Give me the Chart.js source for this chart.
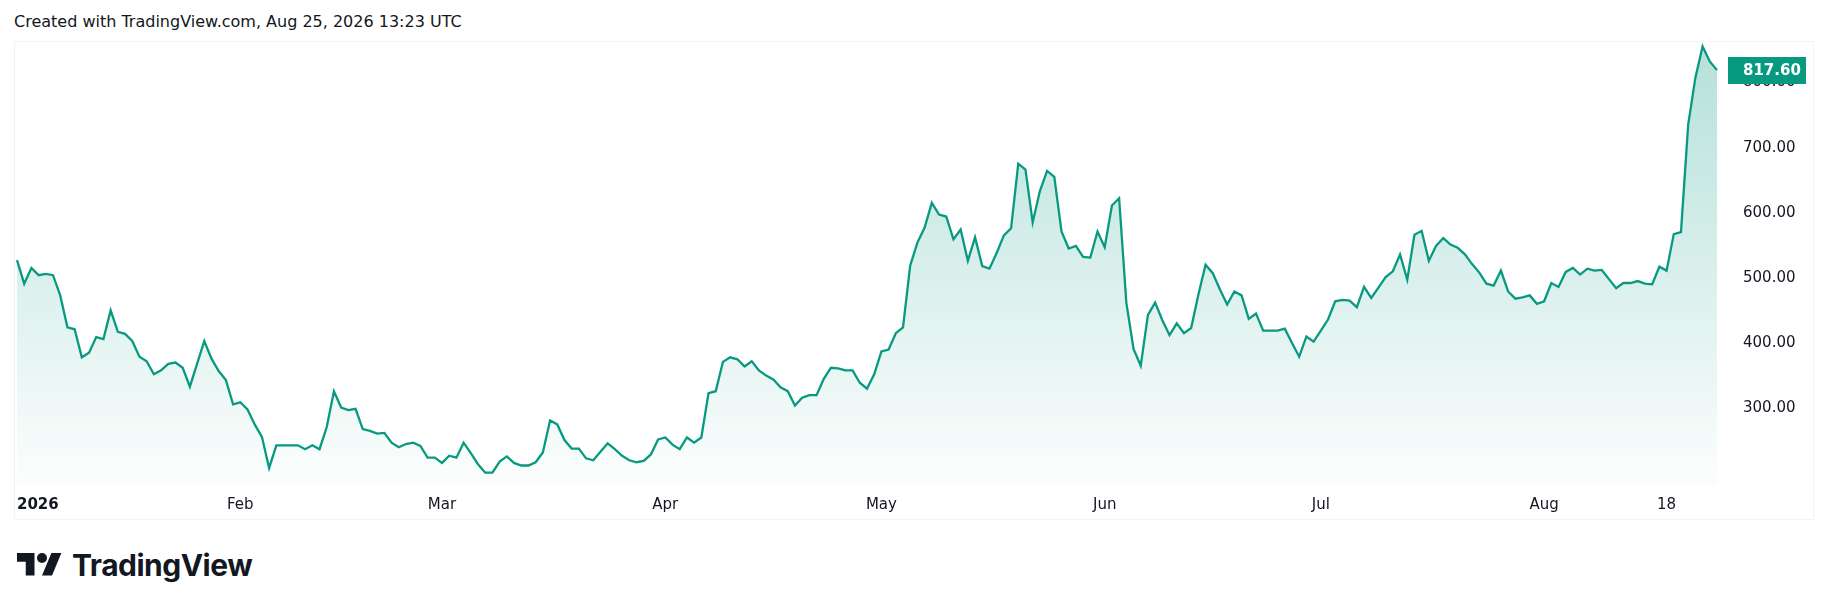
<!DOCTYPE html>
<html>
<head>
<meta charset="utf-8">
<script src="https://cdn.jsdelivr.net/npm/chart.js@4.4.1/dist/chart.umd.min.js"></script>
<style>
  html, body { margin: 0; padding: 0; background: #ffffff; }
  body { width: 1830px; height: 611px; position: relative; overflow: hidden; font-family: "DejaVu Sans", sans-serif; color: #131722; }
  #title { position: absolute; left: 14px; top: 11px; font-size: 16px; line-height: 22px; white-space: nowrap; }
  #frame { position: absolute; left: 14px; top: 41px; width: 1800px; height: 479px; box-sizing: border-box; border: 1px solid #f0f3fa; }
  #chart { position: absolute; left: 14px; top: 41px; }
  #logo { position: absolute; left: 17px; top: 545px; height: 40px; display: flex; align-items: center; }
  #logo svg { display: block; }
  #logo span { font-family: "Inter", sans-serif; font-weight: 700; font-size: 30px; letter-spacing: -0.5px; margin-left: 10px; color: #131722; }
</style>
</head>
<body>
<div id="title">Created with TradingView.com, Aug 25, 2026 13:23 UTC</div>
<div id="frame"></div>
<canvas id="chart" width="1792" height="479"></canvas>
<div id="logo">
  <svg width="45" height="35" viewBox="0 0 36 28"><path fill="#131722" d="M14 22H7V11H0V4h14v18zM28 22h-8l7.5-18h8L28 22z"/><circle fill="#131722" cx="20" cy="8" r="4"/></svg>
  <span>TradingView</span>
</div>
<script>
// ---- data ----
const startDate = '2026-01-01';
const prices = [
  526, 490, 514, 503, 505, 503, 472, 423, 420, 377,
  384, 408, 405, 449, 416, 413, 402, 378, 371, 351,
  357, 367, 369, 361, 332, 367, 402, 375, 356, 342,
  305, 308, 297, 274, 255, 207, 242, 242, 242, 242,
  236, 242, 236, 270, 325, 300, 296, 298, 267, 264,
  260, 261, 246, 239, 244, 246, 241, 223, 223, 215,
  226, 223, 246, 230, 213, 200, 200, 217, 225, 215,
  211, 211, 216, 231, 280, 274, 250, 237, 237, 222,
  219, 232, 245, 236, 226, 219, 216, 218, 228, 251,
  254, 243, 236, 254, 246, 254, 322, 325, 370, 377,
  374, 363, 371, 357, 349, 343, 331, 325, 303, 315,
  319, 319, 344, 361, 360, 357, 357, 338, 329, 351,
  386, 389, 414, 423, 518, 553, 576, 614, 596, 593,
  558, 573, 525, 561, 517, 513, 537, 564, 575, 674,
  665, 584, 632, 663, 654, 570, 544, 548, 531, 530,
  570, 546, 610, 621, 461, 390, 364, 442, 461, 434,
  411, 429, 414, 422, 473, 519, 506, 481, 458, 478,
  472, 436, 444, 418, 418, 418, 421, 399, 378, 409,
  401, 418, 435, 463, 465, 464, 454, 485, 468, 484,
  500, 509, 535, 496, 565, 571, 525, 548, 560, 550,
  545, 535, 520, 507, 490, 487, 510, 478, 467, 469,
  472, 459, 463, 491, 485, 508, 514, 504, 513, 510,
  511, 497, 483, 491, 491, 494, 490, 489, 516, 510,
  566, 569, 734, 806, 854, 831, 817.6
];
const xTickDates  = ['2026-01-01','2026-02-01','2026-03-01','2026-04-01','2026-05-01','2026-06-01','2026-07-01','2026-08-01','2026-08-18'];
const xTickLabels = ['2026','Feb','Mar','Apr','May','Jun','Jul','Aug','18'];
const yTicks = [300, 400, 500, 600, 700, 800];

// category labels: one per day
const dates = [];
{
  const d0 = new Date(startDate + 'T00:00:00Z');
  for (let i = 0; i < prices.length; i++) {
    const d = new Date(d0.getTime() + i * 86400000);
    dates.push(d.toISOString().slice(0, 10));
  }
}

const GREEN = '#089981';
const FONT = '"DejaVu Sans", sans-serif';
// price-scale geometry (canvas pixels): where 300 sits and px per unit
const Y300 = 366.3, PX_PER_UNIT = 0.6535;

// price-scale labels (drawn at the y scale's own tick pixels)
const priceScale = {
  id: 'priceScale',
  afterDatasetsDraw(chart) {
    const ctx = chart.ctx;
    const ys = chart.scales.y;
    ctx.save();
    ctx.fillStyle = '#131722';
    ctx.font = '15px ' + FONT;
    ctx.textAlign = 'left';
    ctx.textBaseline = 'middle';
    const x = chart.chartArea.right + 26;
    ys.ticks.forEach(t => ctx.fillText(Number(t.value).toFixed(2), x, ys.getPixelForValue(t.value) + 1));
    ctx.restore();
  },
  afterDraw(chart) {
    const ctx = chart.ctx;
    const ys = chart.scales.y;
    const last = prices[prices.length - 1];
    const y = ys.getPixelForValue(last);
    const x = chart.chartArea.right + 11;
    const w = 78, h = 27;
    ctx.save();
    ctx.fillStyle = GREEN;
    ctx.fillRect(x, Math.round(y - h / 2), w, h);
    ctx.fillStyle = '#ffffff';
    ctx.font = '600 15px ' + FONT;
    ctx.textAlign = 'left';
    ctx.textBaseline = 'middle';
    ctx.fillText(last.toFixed(2), x + 15, y + 1);
    ctx.restore();
  }
};

const chart = new Chart(document.getElementById('chart'), {
  type: 'line',
  data: {
    labels: dates,
    datasets: [{
      data: prices,
      borderColor: GREEN,
      borderWidth: 2.3,
      pointRadius: 0,
      tension: 0,
      clip: false,
      fill: 'start',
      backgroundColor: (c) => {
        const area = c.chart.chartArea;
        if (!area) return 'rgba(8,153,129,0.12)';
        const g = c.chart.ctx.createLinearGradient(0, 0, 0, area.bottom);
        g.addColorStop(0, 'rgba(8,153,129,0.30)');
        g.addColorStop(1, 'rgba(8,153,129,0.01)');
        return g;
      }
    }]
  },
  options: {
    responsive: false,
    animation: false,
    layout: { padding: { left: 3, right: 0, top: 0, bottom: 0 } },
    plugins: { legend: { display: false }, tooltip: { enabled: false } },
    scales: {
      x: {
        type: 'category',
        offset: false,
        grid: { display: false },
        border: { display: false },
        afterFit: (s) => { s.height = 34; },
        ticks: {
          autoSkip: false,
          maxRotation: 0,
          minRotation: 0,
          align: 'inner',
          padding: 2,
          color: '#131722',
          font: (c) => ({ family: FONT, size: 15, weight: c.index === 0 ? 'bold' : 'normal' }),
          callback: function (value, index) {
            const lab = this.getLabelForValue(value);
            const k = xTickDates.indexOf(lab);
            return k >= 0 ? xTickLabels[k] : '';
          }
        }
      },
      y: {
        position: 'right',
        min: 173.4,
        max: 860.5,
        grid: { display: false, drawTicks: false },
        border: { display: false },
        afterBuildTicks: (s) => { s.ticks = yTicks.map(v => ({ value: v })); },
        afterFit: (s) => { s.width = 89; },
        ticks: { display: false }
      }
    }
  },
  plugins: [priceScale]
});

// second pass: fit the value range to the actual plot area so the price scale
// keeps the reference geometry
const a0 = chart.chartArea;
chart.options.scales.y.min = 300 - (a0.bottom - Y300) / PX_PER_UNIT;
chart.options.scales.y.max = 300 + (Y300 - a0.top) / PX_PER_UNIT;
chart.update();
</script>
</body>
</html>
